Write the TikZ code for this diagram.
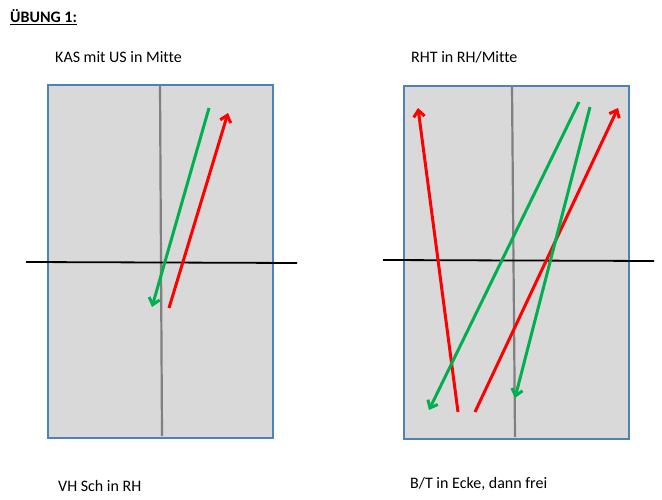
\documentclass[tikz,border=0pt]{standalone}
\usepackage{fontspec}
\setmainfont[Ligatures=NoCommon]{Carlito}
\usepackage{tikz}
\usetikzlibrary{arrows.meta}

\definecolor{boxfill}{HTML}{D9D9D9}
\definecolor{boxline}{HTML}{4F81BD}
\definecolor{midline}{HTML}{808080}
\definecolor{walkred}{HTML}{FF0000}
\definecolor{walkgreen}{HTML}{00B050}

\begin{document}
\begin{tikzpicture}[
        x=1pt, y=-1pt,
        field/.style={draw=boxline, line width=1.6pt, fill=boxfill},
        centre/.style={draw=midline, line width=2.2pt},
        axis/.style={draw=black, line width=1.8pt},
        run/.style={line width=3pt, -{Straight Barb[length=6.5pt, width=11pt, line width=3pt]}},
        caption/.style={anchor=west, inner sep=0pt, font=\fontsize{16}{19}\selectfont}
    ]
    \useasboundingbox (0,0) rectangle (662,500);

    % Fields
    \node[field, minimum width=225pt, minimum height=353pt, anchor=north west, inner sep=0pt] (F1) at (47,84) {};
    \node[field, minimum width=225pt, minimum height=353pt, anchor=north west, inner sep=0pt] (F2) at (403,85) {};

    % Centre and cross lines
    \coordinate (C1a) at (160,85);
    \coordinate (C1b) at (162,436);
    \coordinate (C2a) at (512,86);
    \coordinate (C2b) at (515,437);
    \draw[centre] (C1a) -- (C1b);
    \draw[centre] (C2a) -- (C2b);
    \coordinate (L1a) at (26,262);
    \coordinate (L1b) at (297,263);
    \coordinate (L2a) at (383,260);
    \coordinate (L2b) at (654,261);
    \draw[axis] (L1a) -- (L1b);
    \draw[axis] (L2a) -- (L2b);

    % Left field runs
    \coordinate (G1s) at (209,108);
    \coordinate (G1e) at (152,307);
    \coordinate (R1s) at (169,308);
    \coordinate (R1e) at (228,113);
    \draw[run, walkgreen] (G1s) -- (G1e);
    \draw[run, walkred] (R1s) -- (R1e);

    % Right field runs
    \coordinate (R2s) at (458,412);
    \coordinate (R2e) at (418,108);
    \coordinate (R3s) at (475,412);
    \coordinate (R3e) at (618,108);
    \coordinate (G2s) at (579,102);
    \coordinate (G2e) at (429,410);
    \coordinate (G3s) at (590,107);
    \coordinate (G3e) at (515,398);
    \draw[run, walkred] (R2s) -- (R2e);
    \draw[run, walkred] (R3s) -- (R3e);
    \draw[run, walkgreen] (G2s) -- (G2e);
    \draw[run, walkgreen] (G3s) -- (G3e);

    % Labels
    \node[caption, font=\fontsize{16}{19}\selectfont\bfseries] (T) at (10,17) {\underline{ÜBUNG 1:}};
    \node[caption] (K1) at (55,57) {KAS mit US in Mitte};
    \node[caption] (K2) at (411,57) {RHT in RH/Mitte};
    \node[caption] (K3) at (58,486) {VH Sch in RH};
    \node[caption] (K4) at (410,484) {B/T in Ecke, dann frei};

\end{tikzpicture}
\end{document}
